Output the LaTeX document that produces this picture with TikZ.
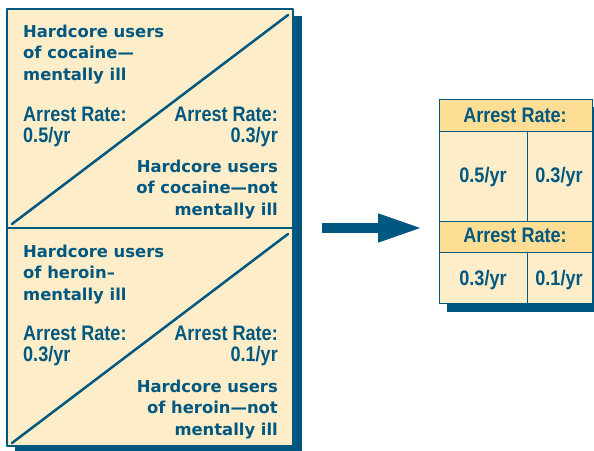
\documentclass[tikz,border=0pt]{standalone}
\usepackage{fontspec}
\usetikzlibrary{arrows.meta}
\newfontfamily\userfont{DejaVu Sans}
\newfontfamily\ratefont[FakeStretch=0.86]{Liberation Sans}
\definecolor{rtblue}{RGB}{0,88,128}
\definecolor{rtcream}{RGB}{254,237,201}
\definecolor{rthead}{RGB}{254,222,148}

\begin{document}
\begin{tikzpicture}[line cap=round,line join=round,x=1pt,y=-1pt,
  users/.style={text=rtblue,inner sep=0pt,font=\userfont\bfseries\fontsize{16.4}{21.3}\selectfont},
  rate/.style={text=rtblue,inner sep=0pt,font=\ratefont\bfseries\fontsize{21}{20.5}\selectfont},
  panel/.style={draw=rtblue,fill=rtcream,line width=1.2pt}]
\useasboundingbox (0,0) rectangle (594,450);
% shadows
\fill[rtblue] (15,16) rectangle (302,455);
\fill[rtblue] (447,107) rectangle (600,312);
% cocaine (anchors are on the last line)
\draw[panel] (7,9) rectangle (293,228);
\draw[rtblue, line width=2.5pt] (12,224)--(288,15);
\node[users, anchor=base west, align=left] (cocill) at (23,80) {Hardcore users\\of cocaine—\\mentally ill};
\node[rate, anchor=base west, align=left] (cocillrate) at (23,142) {Arrest Rate:\\0.5/yr};
\node[rate, anchor=base east, align=right] (cocnotrate) at (278,142) {Arrest Rate:\\0.3/yr};
\node[users, anchor=base east, align=right] (cocnot) at (278,215) {Hardcore users\\of cocaine—not\\mentally ill};
% heroin
\begin{scope}[shift={(0,219)}]
\draw[panel] (7,9) rectangle (293,227);
\draw[rtblue, line width=2.5pt] (12,224)--(288,15);
\node[users, anchor=base west, align=left] (herill) at (23,81) {Hardcore users\\of heroin–\\mentally ill};
\node[rate, anchor=base west, align=left] (herillrate) at (23,142) {Arrest Rate:\\0.3/yr};
\node[rate, anchor=base east, align=right] (hernotrate) at (278,142) {Arrest Rate:\\0.1/yr};
\node[users, anchor=base east, align=right] (hernot) at (278,216) {Hardcore users\\of heroin—not\\mentally ill};
\end{scope}
% arrow
\coordinate (arrowtail) at (322,228);
\coordinate (arrowtip) at (423,228);
\draw[rtblue, line width=10pt, line cap=butt, -{Triangle[length=45pt,width=26pt]}] (arrowtail)--(arrowtip);
% table
\draw[rtblue, line width=1pt, fill=rtcream] (439,99) rectangle (592,303);
\draw[rtblue, line width=1pt, fill=rthead] (439,99) rectangle (592,131);
\draw[rtblue, line width=1pt, fill=rthead] (439,221) rectangle (592,252);
\draw[rtblue, line width=1pt] (527,131)--(527,221);
\draw[rtblue, line width=1pt] (527,252)--(527,303);
\node[rate, anchor=base] (headone) at (515,122) {Arrest Rate:};
\node[rate, anchor=base] (cellA) at (483,182) {0.5/yr};
\node[rate, anchor=base] (cellB) at (559,182) {0.3/yr};
\node[rate, anchor=base] (headtwo) at (515,242) {Arrest Rate:};
\node[rate, anchor=base] (cellC) at (483,285) {0.3/yr};
\node[rate, anchor=base] (cellD) at (559,285) {0.1/yr};
\end{tikzpicture}
\end{document}
